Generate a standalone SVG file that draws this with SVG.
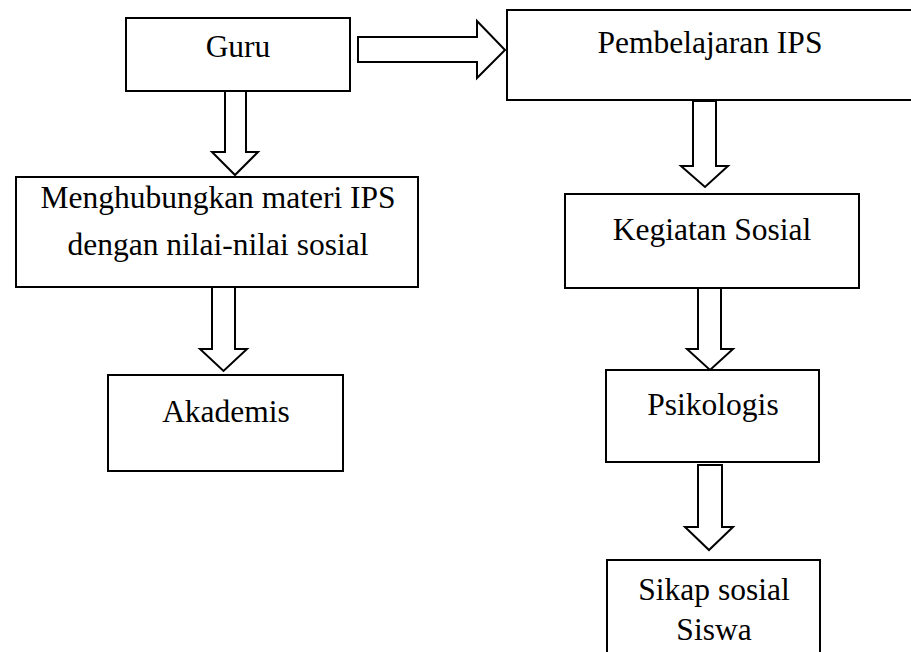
<svg xmlns="http://www.w3.org/2000/svg" width="911" height="652" viewBox="0 0 911 652">
<style>
.box{fill:#fff;stroke:#000;stroke-width:2}
.arr{fill:#fff;stroke:#000;stroke-width:2;stroke-linejoin:miter}
.t{font-family:'Liberation Serif','Times New Roman',serif;font-size:31.5px;fill:#000;text-anchor:middle}
</style>
<rect width="911" height="652" fill="#fff"/>
<g id="connectors">
<polygon class="arr" points="358,37 477,37 477,21 505,50 477,78 477,62 358,62"/>
<polygon class="arr" points="225,91 246,91 246,152 258,152 235,175 212,152 225,152"/>
<polygon class="arr" points="212,287 235,287 235,349 247,349 223.5,371 200,349 212,349"/>
<polygon class="arr" points="693,101 716,101 716,166 728,166 705,187 681,166 693,166"/>
<polygon class="arr" points="698,288 721,288 721,349 733,349 710,370 687,349 698,349"/>
<polygon class="arr" points="698,465 722,465 722,527 733,527 709,550 685,527 698,527"/>
</g>
<g id="guru">
<rect class="box" x="126" y="18" width="224" height="73"/>
<text class="t" x="238" y="57">Guru</text>
</g>
<g id="pembelajaran">
<rect class="box" x="507" y="10" width="410" height="90"/>
<text class="t" x="710" y="53">Pembelajaran IPS</text>
</g>
<g id="menghubungkan">
<rect class="box" x="16" y="177" width="402" height="110"/>
<text class="t" x="218" y="208">Menghubungkan materi IPS</text>
<text class="t" x="218" y="255">dengan nilai-nilai sosial</text>
</g>
<g id="akademis">
<rect class="box" x="108" y="375" width="235" height="96"/>
<text class="t" x="226" y="422">Akademis</text>
</g>
<g id="kegiatan">
<rect class="box" x="565" y="194" width="294" height="94"/>
<text class="t" x="712" y="240">Kegiatan Sosial</text>
</g>
<g id="psikologis">
<rect class="box" x="606" y="370" width="213" height="92"/>
<text class="t" x="713" y="415">Psikologis</text>
</g>
<g id="sikap">
<rect class="box" x="607" y="560" width="213" height="100"/>
<text class="t" x="714" y="600">Sikap sosial</text>
<text class="t" x="714" y="640">Siswa</text>
</g>
</svg>
